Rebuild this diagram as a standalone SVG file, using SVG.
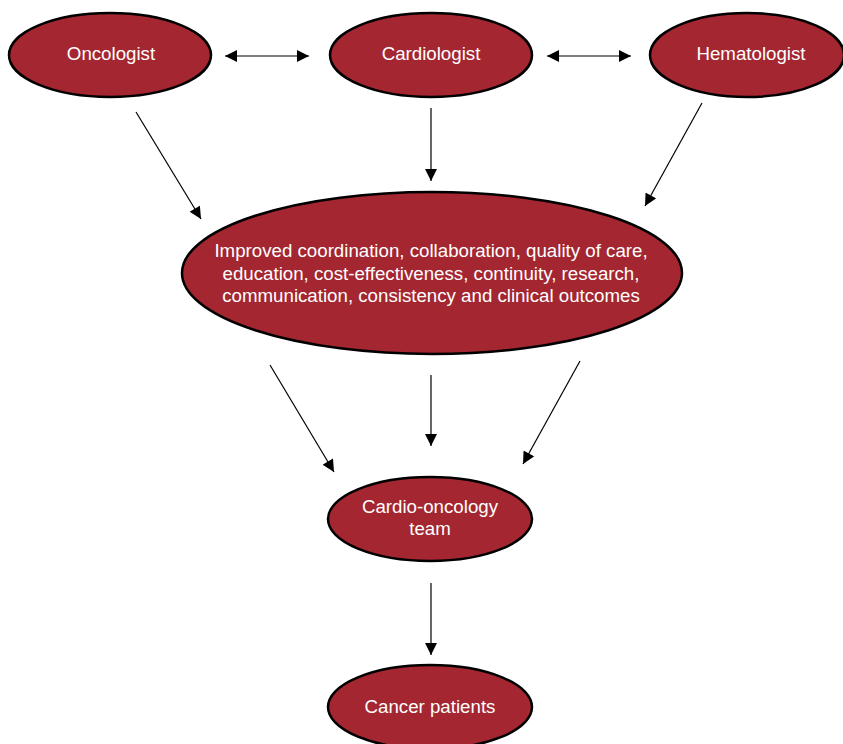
<svg xmlns="http://www.w3.org/2000/svg" width="843" height="744" viewBox="0 0 843 744">
<defs>
<marker id="ah" viewBox="0 0 10 10" refX="10" refY="5" markerWidth="13" markerHeight="12" markerUnits="userSpaceOnUse" orient="auto-start-reverse">
<path d="M0,0 L10,5 L0,10 Z" fill="#000"/>
</marker>
<style>
.n{fill:#A32631;stroke:#000;stroke-width:2.5}
.t{fill:#fff;font-family:"Liberation Sans",Arial,sans-serif;font-size:18.7px;text-anchor:middle}
.c{stroke:#000;stroke-width:1.2;fill:none;marker-end:url(#ah)}
.d{marker-start:url(#ah)}
</style>
</defs>
<rect width="843" height="744" fill="#fff"/>
<g id="connectors">
<line class="c d" x1="225" y1="56" x2="309" y2="56"/>
<line class="c d" x1="547" y1="56" x2="631" y2="56"/>
<line class="c" x1="136" y1="112" x2="201" y2="219"/>
<line class="c" x1="431" y1="108" x2="431" y2="181"/>
<line class="c" x1="702" y1="103" x2="645" y2="206"/>
<line class="c" x1="270" y1="365" x2="334" y2="472"/>
<line class="c" x1="431" y1="375" x2="431" y2="446"/>
<line class="c" x1="580" y1="361" x2="523" y2="464"/>
<line class="c" x1="431" y1="583" x2="431" y2="655"/>
</g>
<g id="oncologist"><ellipse class="n" cx="110" cy="55" rx="101" ry="42"/><text class="t" x="111" y="60">Oncologist</text></g>
<g id="cardiologist"><ellipse class="n" cx="431" cy="55" rx="101" ry="42"/><text class="t" x="431" y="60">Cardiologist</text></g>
<g id="hematologist"><ellipse class="n" cx="747" cy="55" rx="97" ry="42"/><text class="t" x="751" y="60">Hematologist</text></g>
<g id="improved"><ellipse class="n" cx="432" cy="273" rx="250" ry="81"/>
<text class="t" x="431" y="257">Improved coordination, collaboration, quality of care,</text>
<text class="t" x="431" y="280">education, cost-effectiveness, continuity, research,</text>
<text class="t" x="431" y="302">communication, consistency and clinical outcomes</text></g>
<g id="team"><ellipse class="n" cx="430" cy="519" rx="102" ry="42"/><text class="t" x="430" y="513">Cardio-oncology</text><text class="t" x="430" y="535">team</text></g>
<g id="patients"><ellipse class="n" cx="430" cy="707" rx="102" ry="42"/><text class="t" x="430" y="713">Cancer patients</text></g>
</svg>
